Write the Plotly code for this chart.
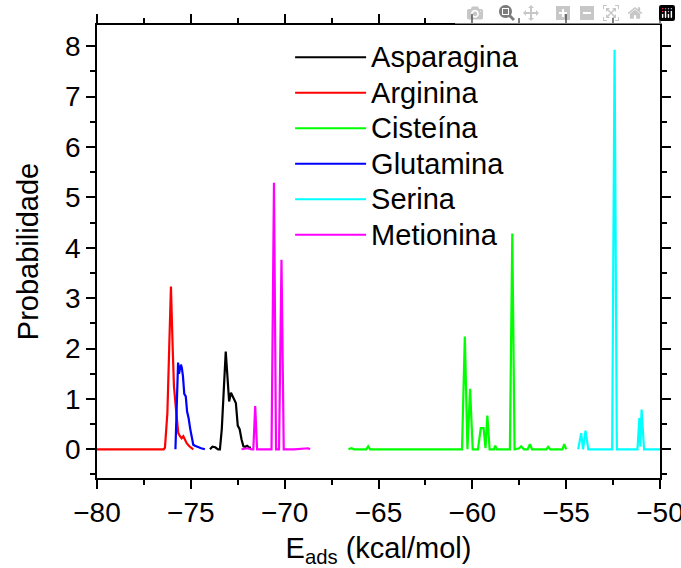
import plotly.graph_objects as go

# ---- data ----
names = ["Asparagina", "Arginina", "Cisteína", "Glutamina", "Serina", "Metionina"]
colors = ["#000000", "#FF0000", "#00FF00", "#0000FF", "#00FFFF", "#FF00FF"]

asparagina_x = [-73.98, -73.85, -73.7, -73.55, -73.45, -73.35, -73.14, -73.05, -72.96, -72.86,
                -72.77, -72.7, -72.6, -72.5, -72.4, -72.3, -72.2, -72.1, -72.0, -71.9, -71.8]
asparagina_y = [0.0, 0.05, 0.04, 0.0, 0.0, 0.4, 1.94, 1.45, 0.95, 1.12,
                1.05, 0.98, 0.92, 0.47, 0.4, 0.2, 0.06, 0.05, 0.07, 0.04, 0.03]

arginina_x = [-80.0, -76.45, -76.38, -76.25, -76.15, -76.06, -75.97, -75.9, -75.79, -75.67,
              -75.58, -75.49, -75.4, -75.31, -75.22, -75.08, -74.87]
arginina_y = [0.0, 0.0, 0.03, 0.72, 2.04, 3.23, 2.04, 1.25, 0.79, 0.32,
              0.26, 0.22, 0.26, 0.19, 0.12, 0.06, 0.0]

cisteina_x = [-66.6, -66.45, -66.3, -65.65, -65.55, -65.45, -60.55, -60.4, -60.26, -60.12,
              -59.98, -59.7, -59.55, -59.4, -59.3, -59.2, -59.08, -58.85, -58.78, -58.7,
              -58.0, -57.87, -57.75, -57.5, -57.4, -57.25, -57.05, -56.93, -56.82, -56.05,
              -55.96, -55.85, -55.2, -55.1, -55.0]
cisteina_y = [0.0, 0.02, 0.0, 0.0, 0.06, 0.0, 0.0, 2.24, 0.0, 1.2,
              0.0, 0.0, 0.42, 0.42, 0.02, 0.67, 0.0, 0.0, 0.07, 0.0,
              0.0, 4.28, 0.0, 0.02, 0.06, 0.0, 0.0, 0.1, 0.0, 0.0,
              0.05, 0.0, 0.0, 0.1, 0.0]

glutamina_x = [-75.82, -75.75, -75.68, -75.63, -75.58, -75.53, -75.48, -75.42, -75.35, -75.27,
               -75.2, -75.12, -75.03, -74.95, -74.87, -74.78, -74.6, -74.45, -74.25]
glutamina_y = [0.0, 0.9, 1.72, 1.5, 1.58, 1.68, 1.62, 1.45, 1.1, 1.05,
               0.75, 0.62, 0.4, 0.2, 0.09, 0.07, 0.04, 0.02, 0.0]

serina_x = [-54.36, -54.2, -54.1, -53.97, -53.82, -52.55, -52.42, -52.3, -51.2, -51.1,
            -51.05, -50.98, -50.85, -50.0]
serina_y = [0.0, 0.32, 0.0, 0.37, 0.0, 0.0, 7.93, 0.0, 0.0, 0.62,
            0.05, 0.79, 0.0, 0.0]

metionina_x = [-72.3, -72.0, -71.75, -71.67, -71.57, -71.47, -71.2, -70.7, -70.57, -70.46,
               -70.3, -70.17, -70.05, -69.5, -68.75, -68.65]
metionina_y = [0.0, 0.02, 0.0, 0.0, 0.86, 0.0, 0.0, 0.0, 5.29, 0.0,
               0.0, 3.76, 0.0, 0.0, 0.02, 0.0]

xs = [asparagina_x, arginina_x, cisteina_x, glutamina_x, serina_x, metionina_x]
ys = [asparagina_y, arginina_y, cisteina_y, glutamina_y, serina_y, metionina_y]

x_ticks = [-80, -75, -70, -65, -60, -55, -50]
y_ticks = [0, 1, 2, 3, 4, 5, 6, 7, 8]

FONT = "Liberation Sans, Arial, sans-serif"
TXT = 29
TICK = 28

fig = go.Figure()
for n, c, x, y in zip(names, colors, xs, ys):
    fig.add_trace(go.Scatter(x=x, y=y, mode="lines",
                             name='<span style="font-size:%dpx">%s</span>' % (TXT, n),
                             line=dict(color=c, width=2.2)))

axis_common = dict(
    showline=True, linecolor="black", linewidth=1.5, mirror="ticks",
    ticks="outside", ticklen=9, tickwidth=1.5, tickcolor="black",
    showgrid=False, zeroline=False, automargin=False, ticklabeloverflow="allow",
    tickfont=dict(family=FONT, size=TICK, color="black"),
)

fig.update_xaxes(range=[-80, -50], tickvals=x_ticks,
                 minor=dict(dtick=2.5, ticks="outside", ticklen=5, tickwidth=1.5, tickcolor="black"),
                 title=dict(text="E<sub>ads</sub> (kcal/mol)", font=dict(family=FONT, size=TXT, color="black"),
                            standoff=10),
                 **axis_common)
fig.update_yaxes(range=[-0.57, 8.42], tickvals=y_ticks,
                 minor=dict(dtick=0.5, ticks="outside", ticklen=5, tickwidth=1.5, tickcolor="black"),
                 title=dict(text="Probabilidade", font=dict(family=FONT, size=TXT, color="black"),
                            standoff=18),
                 **axis_common)

fig.update_layout(
    width=681, height=568,
    margin=dict(l=97, r=21, t=25, b=90),
    plot_bgcolor="white", paper_bgcolor="white",
    font=dict(family=FONT, color="black"),
    legend=dict(x=0.343, y=0.979, xanchor="left", yanchor="top",
                bgcolor="rgba(0,0,0,0)", borderwidth=0,
                font=dict(family=FONT, size=25, color="black"),
                itemwidth=71, tracegroupgap=0),
)

# remove the browser's default 8 px page margin so the figure fills the window exactly
fig.write_html("out.html",
               post_script="document.body.style.margin='0';document.body.style.overflow='hidden';")
